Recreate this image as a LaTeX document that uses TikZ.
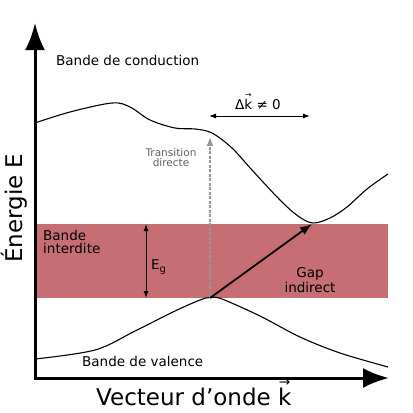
\documentclass[tikz,border=0pt]{standalone}
\usepackage{fontspec}
\setmainfont{DejaVu Sans}
\usetikzlibrary{arrows.meta}
\definecolor{bandred}{RGB}{198,110,116}
\definecolor{txtgray}{RGB}{95,95,95}
\definecolor{dashgray}{RGB}{150,150,150}
\newcommand\myveck{\leavevmode\hbox{\ooalign{k\cr\hidewidth\raisebox{0.82em}{\scalebox{0.6}[0.55]{→}}\hidewidth\cr}}}
\begin{document}
\begin{tikzpicture}[x=1pt,y=-1pt,
  lbl/.style={font=\fontsize{13.5}{13.5}\selectfont, inner sep=0pt},
  small/.style={font=\fontsize{10.5}{10.5}\selectfont, inner sep=0pt, text=txtgray},
  big/.style={font=\fontsize{23}{23}\selectfont, inner sep=0pt},
  curve/.style={line width=1.1pt, line join=round},
  axis/.style={line width=3pt}]
\useasboundingbox (0,0) rectangle (413,413);
% forbidden band
\fill[bandred] (35,224) rectangle (388,298);
% key points
\coordinate (ytip) at (35,23);
\coordinate (orig) at (35,378);
\coordinate (xtip) at (389,378);
\coordinate (vmax) at (210,298);
\coordinate (ctop) at (210,137);
\coordinate (cmin) at (312,224);
\coordinate (dkl) at (209,116);
\coordinate (dkr) at (310,116);
\coordinate (egt) at (146,224);
\coordinate (egb) at (146,298);
% conduction band
\draw[curve] plot[smooth, tension=0.55] coordinates {(35,123) (70,112) (112,103) (130,107) (150,120) (175,128) (195,129) (212,133) (232,148) (252,170) (280,200) (298,216) (313,223) (330,218) (347,207) (367,189) (388,174)};
% valence band
\draw[curve] plot[smooth, tension=0.55] coordinates {(35,359) (95,350) (135,331) (175,311) (200,300) (210,297.5) (222,299) (260,316) (300,337) (340,353) (388,367)};
% axes
\draw[axis, {Latex[length=27pt,width=20pt]}-{Latex[length=26pt,width=20pt]}, line join=miter] (ytip) -- (orig) -- (xtip);
% transitions
\draw[dashgray, line width=1.3pt, dash pattern=on 3pt off 1.5pt, -{Latex[length=9pt,width=7pt]}] (vmax) -- (ctop);
\draw[line width=1.8pt, -{Latex[length=12pt,width=9pt]}] (vmax) -- (cmin);
\draw[line width=1pt, {Latex[length=7pt,width=5pt]}-{Latex[length=7pt,width=5pt]}] (egt) -- (egb);
\draw[line width=1pt, {Latex[length=7pt,width=5pt]}-{Latex[length=7pt,width=5pt]}] (dkl) -- (dkr);
% labels
\node[lbl, anchor=base west] (bc) at (56,65) {Bande de conduction};
\node[lbl, anchor=base west] (bv) at (82,366) {Bande de valence};
\node[lbl, anchor=base west] (bi1) at (43,240) {Bande};
\node[lbl, anchor=base west] (bi2) at (43,253) {interdite};
\node[lbl, anchor=base west] (eg) at (151,269) {E\raisebox{-0.45ex}{\fontsize{10}{10}\selectfont g}};
\node[small, anchor=base] (tr1) at (171,156) {Transition};
\node[small, anchor=base] (tr2) at (171,166) {directe};
\node[lbl, anchor=base] (dk) at (258,109) {Δ\myveck\ ≠ 0};
\node[lbl, anchor=base] (gap1) at (310,277) {Gap};
\node[lbl, anchor=base] (gap2) at (310,292) {indirect};
\node[big, anchor=base west] (xl) at (96,405) {Vecteur d’onde \myveck};
\node[big, anchor=base west, rotate=90] (yl) at (23,263) {Énergie E};
\end{tikzpicture}
\end{document}
